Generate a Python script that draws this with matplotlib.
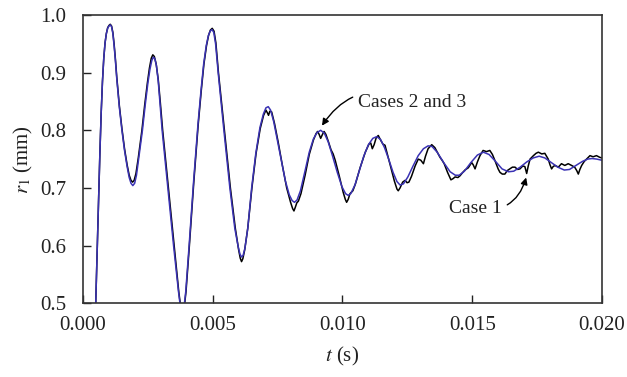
import matplotlib
matplotlib.use("Agg")
import matplotlib.pyplot as plt

# Case 1 (black, small wiggles) as (t [s], r1 [mm])
case1_points = [
    (0.00035, 0.380), (0.00042, 0.440), (0.00049, 0.500), (0.00055, 0.600), (0.00060, 0.680),
    (0.00065, 0.760), (0.00070, 0.830), (0.00075, 0.885), (0.00080, 0.925), (0.00085, 0.952),
    (0.00090, 0.968), (0.00095, 0.978), (0.00100, 0.982), (0.00105, 0.984), (0.00110, 0.981),
    (0.00115, 0.970), (0.00120, 0.949), (0.00125, 0.923), (0.00130, 0.893), (0.00140, 0.843),
    (0.00150, 0.803), (0.00160, 0.768), (0.00170, 0.740), (0.00178, 0.722), (0.00185, 0.713),
    (0.00191, 0.710), (0.00197, 0.713), (0.00204, 0.725), (0.00213, 0.752), (0.00227, 0.800),
    (0.00238, 0.845), (0.00248, 0.882), (0.00256, 0.908), (0.00263, 0.925), (0.00269, 0.931),
    (0.00275, 0.928), (0.00282, 0.915), (0.00290, 0.888), (0.00298, 0.848), (0.00307, 0.800),
    (0.00329, 0.700), (0.00351, 0.600), (0.00369, 0.520), (0.00376, 0.495), (0.00383, 0.482),
    (0.00390, 0.492), (0.00397, 0.520), (0.00410, 0.600), (0.00427, 0.710), (0.00444, 0.810),
    (0.00456, 0.870), (0.00466, 0.915), (0.00476, 0.947), (0.00484, 0.965), (0.00491, 0.974),
    (0.00498, 0.977), (0.00505, 0.972), (0.00512, 0.952), (0.00522, 0.900), (0.00545, 0.800),
    (0.00568, 0.700), (0.00587, 0.630), (0.00600, 0.592), (0.00606, 0.578), (0.00611, 0.572),
    (0.00616, 0.577), (0.00623, 0.592), (0.00635, 0.630), (0.00651, 0.700), (0.00667, 0.760),
    (0.00683, 0.803), (0.00696, 0.826), (0.00705, 0.835), (0.00711, 0.830), (0.00715, 0.826),
    (0.00720, 0.833), (0.00727, 0.832), (0.00738, 0.812), (0.00752, 0.780), (0.00768, 0.740),
    (0.00785, 0.700), (0.00800, 0.675), (0.00808, 0.664), (0.00813, 0.660), (0.00818, 0.666),
    (0.00824, 0.674), (0.00830, 0.677), (0.00840, 0.690), (0.00856, 0.722), (0.00872, 0.758),
    (0.00888, 0.783), (0.00898, 0.794), (0.00904, 0.798), (0.00910, 0.793), (0.00916, 0.786),
    (0.00922, 0.792), (0.00929, 0.798), (0.00936, 0.793), (0.00946, 0.780), (0.00956, 0.766),
    (0.00964, 0.759), (0.00972, 0.748), (0.00988, 0.720), (0.01003, 0.692), (0.01011, 0.680),
    (0.01016, 0.675), (0.01022, 0.680), (0.01029, 0.690), (0.01040, 0.695), (0.01050, 0.707),
    (0.01068, 0.735), (0.01088, 0.762), (0.01102, 0.776), (0.01109, 0.778), (0.01115, 0.768),
    (0.01122, 0.775), (0.01130, 0.787), (0.01138, 0.791), (0.01147, 0.783), (0.01156, 0.776),
    (0.01164, 0.774), (0.01172, 0.760), (0.01185, 0.738), (0.01200, 0.712), (0.01210, 0.698),
    (0.01215, 0.695), (0.01222, 0.700), (0.01232, 0.710), (0.01241, 0.713), (0.01249, 0.709),
    (0.01256, 0.710), (0.01266, 0.720), (0.01280, 0.738), (0.01292, 0.750), (0.01302, 0.748),
    (0.01312, 0.742), (0.01320, 0.755), (0.01330, 0.768), (0.01344, 0.775), (0.01356, 0.770),
    (0.01368, 0.760), (0.01376, 0.753), (0.01384, 0.748), (0.01392, 0.742), (0.01405, 0.727),
    (0.01418, 0.714), (0.01426, 0.716), (0.01434, 0.719), (0.01445, 0.718), (0.01453, 0.721),
    (0.01462, 0.726), (0.01472, 0.731), (0.01485, 0.735), (0.01498, 0.744), (0.01504, 0.740),
    (0.01511, 0.733), (0.01520, 0.745), (0.01530, 0.756), (0.01542, 0.765), (0.01555, 0.763),
    (0.01568, 0.765), (0.01578, 0.758), (0.01588, 0.747), (0.01600, 0.733), (0.01607, 0.727),
    (0.01616, 0.724), (0.01626, 0.724), (0.01635, 0.730), (0.01645, 0.733), (0.01655, 0.736),
    (0.01665, 0.736), (0.01675, 0.732), (0.01684, 0.733), (0.01695, 0.738), (0.01703, 0.737),
    (0.01710, 0.725), (0.01716, 0.738), (0.01723, 0.750), (0.01736, 0.756), (0.01746, 0.760),
    (0.01755, 0.762), (0.01768, 0.759), (0.01780, 0.760), (0.01793, 0.750), (0.01800, 0.740),
    (0.01806, 0.733), (0.01812, 0.737), (0.01819, 0.739), (0.01832, 0.736), (0.01844, 0.742),
    (0.01857, 0.739), (0.01870, 0.742), (0.01883, 0.739), (0.01895, 0.736), (0.01903, 0.730),
    (0.01909, 0.724), (0.01915, 0.732), (0.01922, 0.739), (0.01932, 0.746), (0.01941, 0.750),
    (0.01954, 0.756), (0.01966, 0.754), (0.01979, 0.756), (0.01992, 0.753), (0.02000, 0.752),
]

# Cases 2 and 3 (blue, smooth)
case23_points = [
    (0.00035, 0.380), (0.00042, 0.440), (0.00049, 0.500), (0.00055, 0.600), (0.00060, 0.680),
    (0.00065, 0.760), (0.00070, 0.830), (0.00075, 0.885), (0.00080, 0.925), (0.00085, 0.952),
    (0.00090, 0.968), (0.00095, 0.977), (0.00100, 0.981), (0.00105, 0.983), (0.00110, 0.980),
    (0.00115, 0.968), (0.00120, 0.946), (0.00125, 0.920), (0.00130, 0.890), (0.00140, 0.840),
    (0.00150, 0.800), (0.00160, 0.765), (0.00170, 0.737), (0.00178, 0.718), (0.00185, 0.708),
    (0.00192, 0.704), (0.00199, 0.708), (0.00206, 0.722), (0.00215, 0.752), (0.00229, 0.800),
    (0.00240, 0.845), (0.00250, 0.882), (0.00258, 0.906), (0.00265, 0.921), (0.00271, 0.927),
    (0.00277, 0.924), (0.00283, 0.912), (0.00290, 0.885), (0.00297, 0.845), (0.00305, 0.800),
    (0.00327, 0.700), (0.00349, 0.600), (0.00368, 0.520), (0.00375, 0.495), (0.00382, 0.482),
    (0.00389, 0.492), (0.00396, 0.520), (0.00409, 0.600), (0.00426, 0.710), (0.00443, 0.810),
    (0.00455, 0.870), (0.00465, 0.915), (0.00475, 0.947), (0.00483, 0.964), (0.00490, 0.972),
    (0.00497, 0.975), (0.00504, 0.970), (0.00511, 0.950), (0.00521, 0.900), (0.00543, 0.800),
    (0.00566, 0.700), (0.00585, 0.630), (0.00598, 0.598), (0.00605, 0.585), (0.00611, 0.580),
    (0.00617, 0.583), (0.00624, 0.595), (0.00635, 0.630), (0.00650, 0.700), (0.00666, 0.760),
    (0.00682, 0.805), (0.00695, 0.828), (0.00705, 0.839), (0.00714, 0.841), (0.00723, 0.835),
    (0.00735, 0.815), (0.00748, 0.785), (0.00765, 0.745), (0.00780, 0.712), (0.00795, 0.688),
    (0.00806, 0.678), (0.00815, 0.675), (0.00825, 0.679), (0.00838, 0.695), (0.00855, 0.728),
    (0.00872, 0.762), (0.00888, 0.785), (0.00902, 0.796), (0.00916, 0.800), (0.00930, 0.795),
    (0.00945, 0.780), (0.00962, 0.755), (0.00980, 0.727), (0.00998, 0.702), (0.01012, 0.690),
    (0.01022, 0.687), (0.01032, 0.690), (0.01048, 0.705), (0.01065, 0.730), (0.01082, 0.755),
    (0.01100, 0.775), (0.01117, 0.786), (0.01132, 0.789), (0.01147, 0.784), (0.01162, 0.770),
    (0.01178, 0.750), (0.01195, 0.727), (0.01210, 0.711), (0.01222, 0.705), (0.01235, 0.707),
    (0.01252, 0.719), (0.01272, 0.738), (0.01292, 0.756), (0.01312, 0.768), (0.01330, 0.773),
    (0.01345, 0.772), (0.01365, 0.762), (0.01390, 0.744), (0.01415, 0.728), (0.01435, 0.722),
    (0.01450, 0.722), (0.01470, 0.729), (0.01495, 0.744), (0.01520, 0.757), (0.01543, 0.762),
    (0.01565, 0.758), (0.01590, 0.746), (0.01615, 0.733), (0.01640, 0.728), (0.01660, 0.729),
    (0.01685, 0.736), (0.01710, 0.745), (0.01735, 0.752), (0.01758, 0.755), (0.01780, 0.752),
    (0.01805, 0.744), (0.01830, 0.736), (0.01855, 0.731), (0.01875, 0.732), (0.01900, 0.739),
    (0.01925, 0.746), (0.01945, 0.750), (0.01962, 0.751), (0.01980, 0.750), (0.02000, 0.748),
]

x_ticks = [0.000, 0.005, 0.010, 0.015, 0.020]
x_tick_labels = ["0.000", "0.005", "0.010", "0.015", "0.020"]
y_ticks = [0.5, 0.6, 0.7, 0.8, 0.9, 1.0]
y_tick_labels = ["0.5", "0.6", "0.7", "0.8", "0.9", "1.0"]

t_case1 = [p[0] for p in case1_points]
r_case1 = [p[1] for p in case1_points]
t_case23 = [p[0] for p in case23_points]
r_case23 = [p[1] for p in case23_points]

plt.rcParams["font.family"] = "Liberation Serif"
plt.rcParams["mathtext.fontset"] = "stix"

fig = plt.figure(figsize=(6.27, 3.77), dpi=100)
ax = fig.add_axes([0.1324, 0.196, 0.8276, 0.764])

ax.plot(t_case1, r_case1, color="black", linewidth=1.1)
ax.plot(t_case23, r_case23, color="#3a32b4", linewidth=1.1)

ax.set_xlim(0.0, 0.020)
ax.set_ylim(0.5, 1.0)
ax.set_xticks(x_ticks)
ax.set_xticklabels(x_tick_labels)
ax.set_yticks(y_ticks)
ax.set_yticklabels(y_tick_labels)
ax.tick_params(direction="in", length=6, width=1, labelsize=15,
               top=False, right=False, colors="#222222", labelcolor="#222222")
ax.tick_params(axis="x", pad=9.5)
ax.tick_params(axis="y", pad=12)
for spine in ax.spines.values():
    spine.set_color("#333333")
    spine.set_linewidth(1.2)

ax.set_xlabel(r"$t$ (s)", fontsize=15, color="#222222", labelpad=7)
ax.set_ylabel(r"$r_1$ (mm)", fontsize=15, color="#222222", labelpad=4)

# annotations with curved arrows
arrow_kw = dict(arrowstyle="-|>", color="black", lw=1.0, mutation_scale=10,
                shrinkA=2, shrinkB=0)
ax.annotate("Cases 2 and 3", xy=(0.00921, 0.808), xytext=(0.0106, 0.848),
            fontsize=14, ha="left", va="center", color="#222222",
            arrowprops=dict(connectionstyle="arc3,rad=0.45", **arrow_kw))
ax.annotate("Case 1", xy=(0.01708, 0.718), xytext=(0.01615, 0.664),
            fontsize=14, ha="right", va="center", color="#222222",
            arrowprops=dict(connectionstyle="arc3,rad=0.45", **arrow_kw))

fig.savefig("out.png", dpi=100)
